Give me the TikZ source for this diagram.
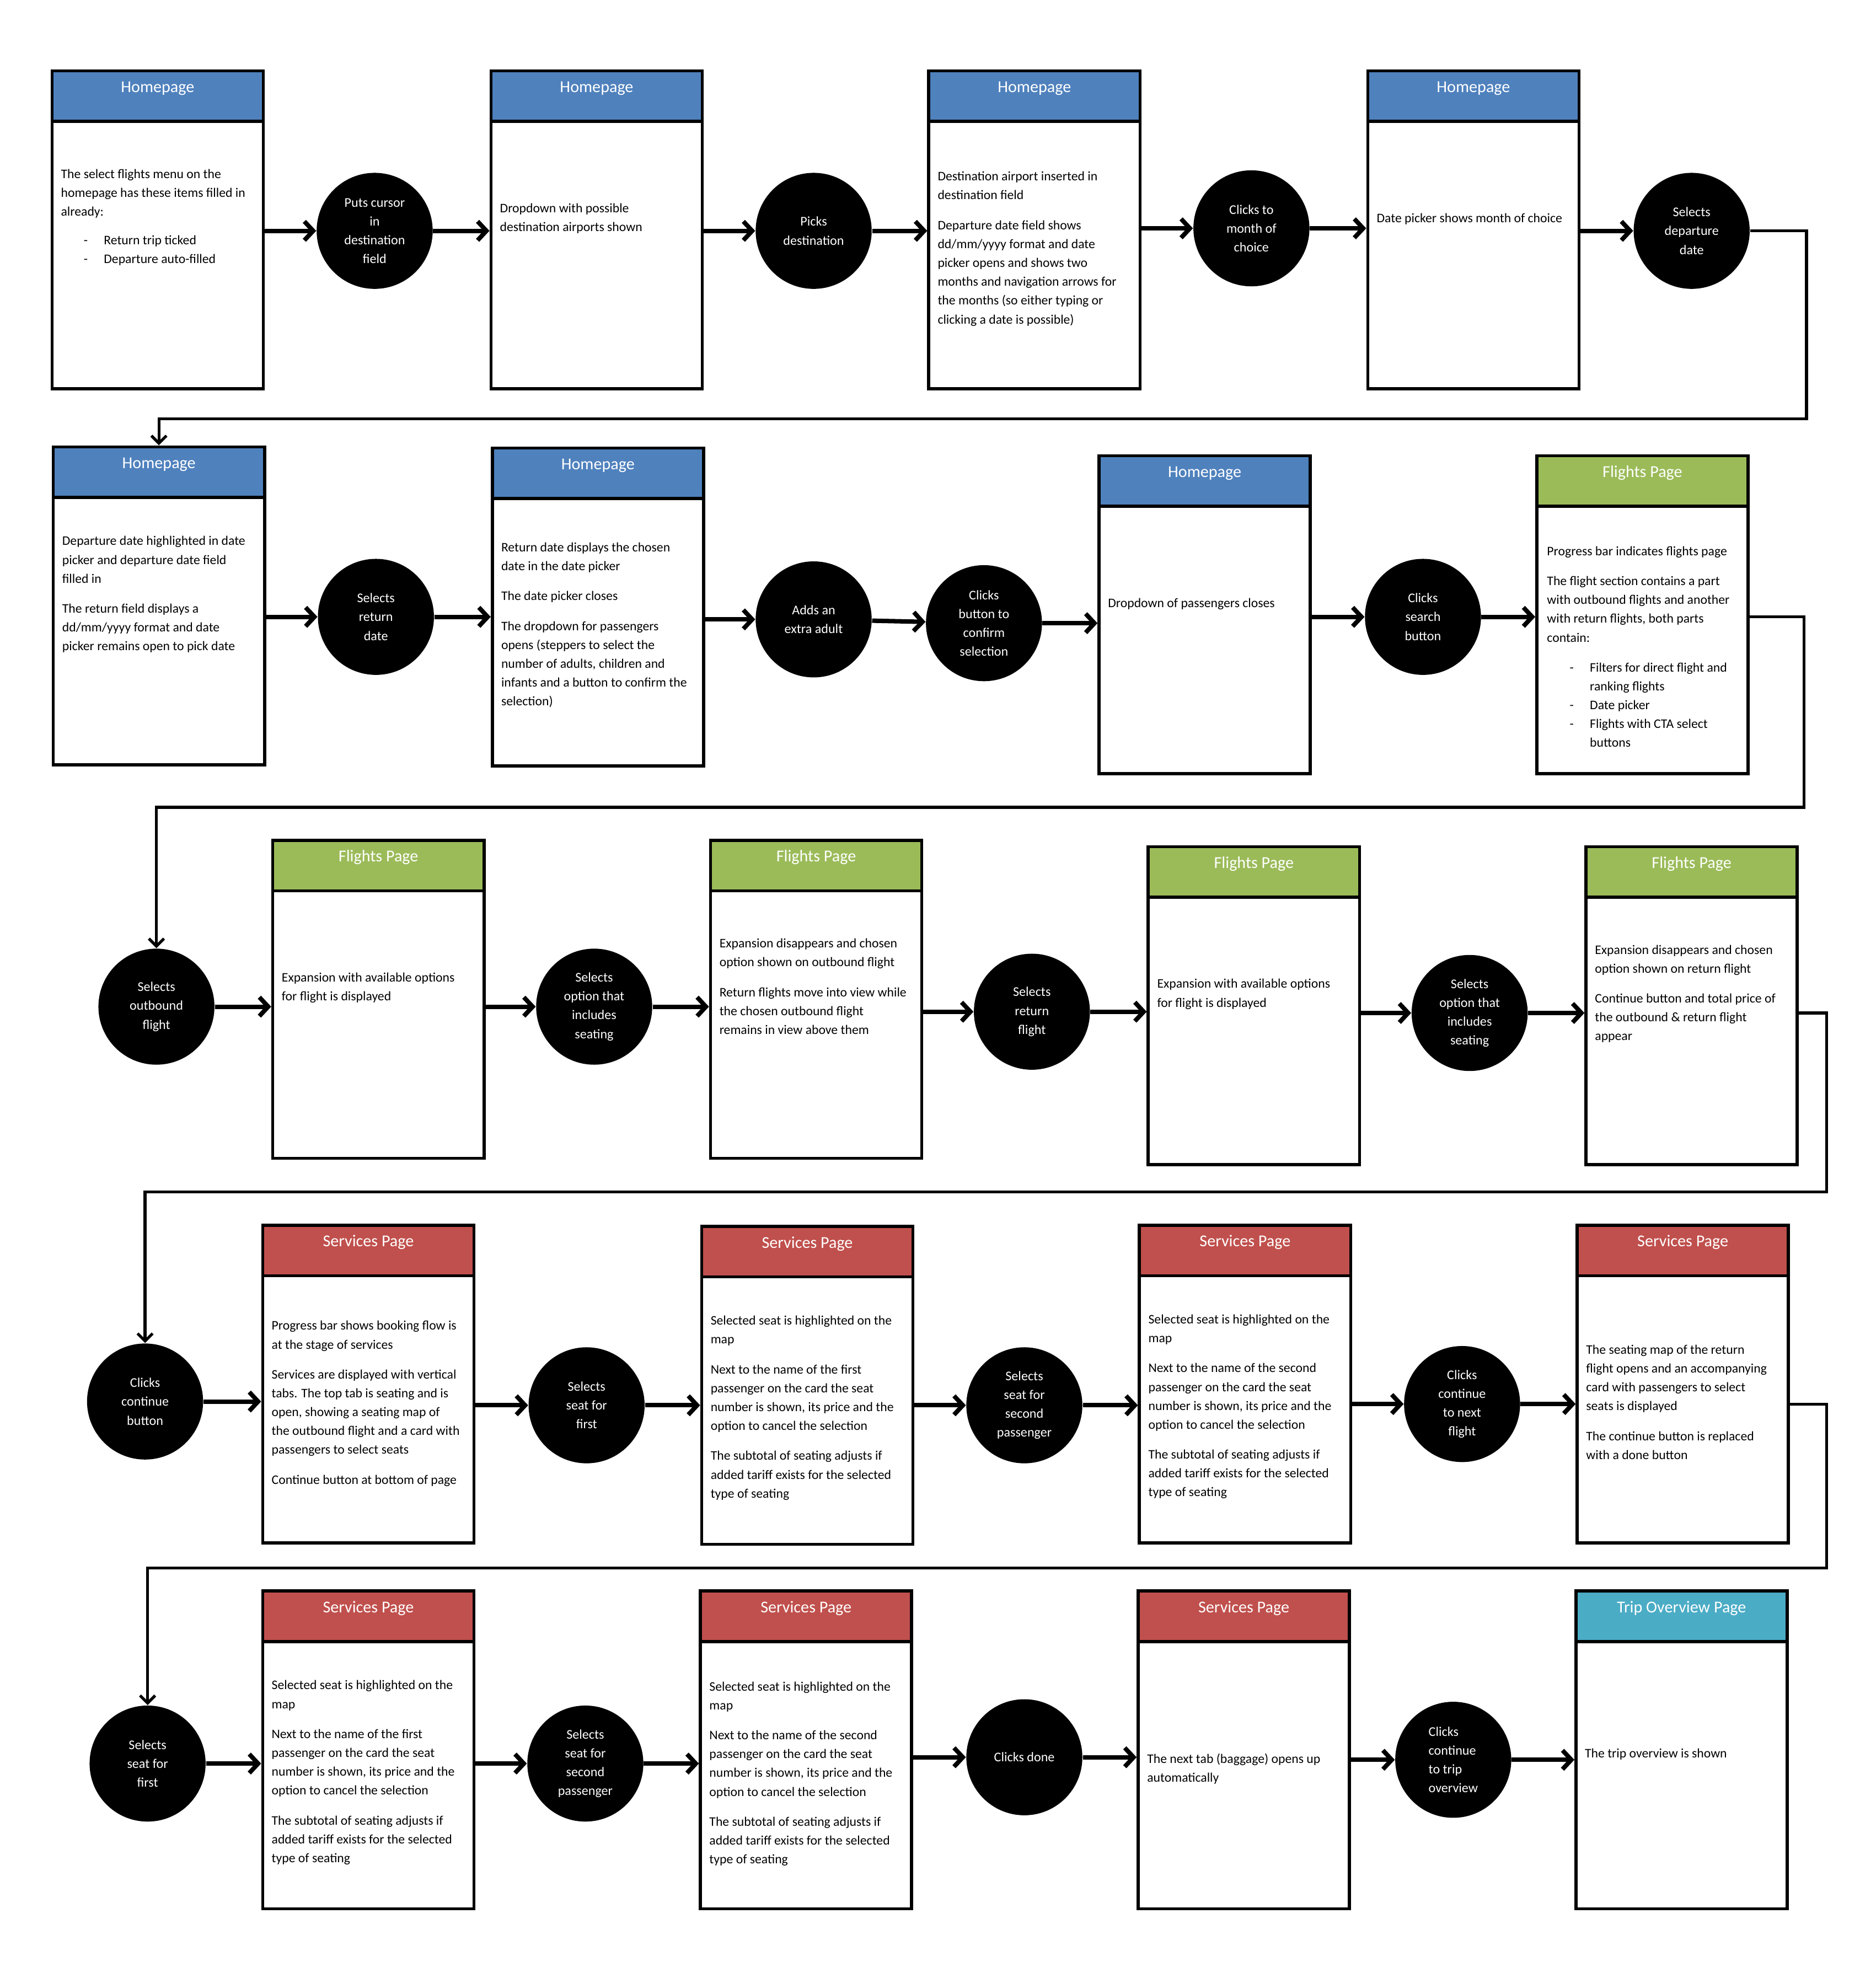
\documentclass[tikz,border=0pt]{standalone}
\usepackage{fontspec}
\setmainfont{Carlito}
\usetikzlibrary{arrows.meta}
\definecolor{homeblue}{HTML}{4F81BD}
\definecolor{flightgreen}{HTML}{9BBB59}
\definecolor{servicered}{HTML}{C0504D}
\definecolor{tripteal}{HTML}{4BACC6}
\tikzset{
    page/.style={draw=black, line width=1.4pt, fill=white, minimum width=3.35cm, minimum height=5.04cm, anchor=north west},
    head/.style={draw=black, line width=1.4pt, minimum width=3.35cm, minimum height=0.8cm, inner sep=0pt, text height=0.34cm, text depth=0.46cm, anchor=north west, text=white, font=\fontsize{7.5}{9}\selectfont},
    info/.style={anchor=north west, inner sep=0pt, yshift=-0.035cm, align=left, font=\fontsize{5.9}{8.5}\selectfont},
    act/.style={shape=circle, fill=black, text=white, minimum size=1.84cm, inner sep=0pt, align=center, font=\fontsize{6}{8.5}\selectfont},
    flow/.style={line width=2pt, -{Straight Barb[length=1.4mm, width=3mm]}},
    back/.style={line width=1.3pt, -{Straight Barb[length=1.2mm, width=2.4mm]}}}
\newcommand{\itm}[1]{\hspace*{0.36cm}\makebox[0.32cm][l]{-}#1}
\newcommand{\itmc}[1]{\hspace*{0.68cm}#1}

\begin{document}
\begin{tikzpicture}[x=0.02cm, y=-0.02cm]
    \useasboundingbox[fill=white] (0,0) rectangle (1487,1568);

    % row 1
    \node[page] (b1) at (40,55) {};
    \node[head, fill=homeblue] (h1) at (b1.north west) {Homepage};
    \node[info] (t1) at (48,132) {The select flights menu on the\\ homepage has these items filled in\\ already:\\[4.5pt] \itm{Return trip ticked}\\ \itm{Departure auto-filled}};
    \node[page] (b2) at (388,55) {};
    \node[head, fill=homeblue] (h2) at (b2.north west) {Homepage};
    \node[info] (t2) at (396,159) {Dropdown with possible\\ destination airports shown};
    \node[page] (b3) at (735,55) {};
    \node[head, fill=homeblue] (h3) at (b3.north west) {Homepage};
    \node[info] (t3) at (743,134) {Destination airport inserted in\\ destination field\\[5pt] Departure date field shows\\ dd/mm/yyyy format and date\\ picker opens and shows two\\ months and navigation arrows for\\ the months (so either typing or\\ clicking a date is possible)};
    \node[page] (b4) at (1083,55) {};
    \node[head, fill=homeblue] (h4) at (b4.north west) {Homepage};
    \node[info] (t4) at (1091,167) {Date picker shows month of choice};

    \node[act] (c1) at (297,183) {Puts cursor\\ in\\ destination\\ field};
    \node[act] (c2) at (645,183) {Picks\\ destination};
    \node[act] (c3) at (992,181) {Clicks to\\ month of\\ choice};
    \node[act] (c4) at (1341,183) {Selects\\ departure\\ date};

    \draw[flow] (c1 -| b1.east) -- (c1);
    \draw[flow] (c1) -- (c1 -| b2.west);
    \draw[flow] (c2 -| b2.east) -- (c2);
    \draw[flow] (c2) -- (c2 -| b3.west);
    \draw[flow] (c3 -| b3.east) -- (c3);
    \draw[flow] (c3) -- (c3 -| b4.west);
    \draw[flow] (c4 -| b4.east) -- (c4);

    % row 2
    \node[page] (b5) at (41,353) {};
    \node[head, fill=homeblue] (h5) at (b5.north west) {Homepage};
    \node[info] (t5) at (49,423) {Departure date highlighted in date\\ picker and departure date field\\ filled in\\[5pt] The return field displays a\\ dd/mm/yyyy format and date\\ picker remains open to pick date};
    \node[page] (b6) at (389,354) {};
    \node[head, fill=homeblue] (h6) at (b6.north west) {Homepage};
    \node[info] (t6) at (397,428) {Return date displays the chosen\\ date in the date picker\\[5pt] The date picker closes\\[5pt] The dropdown for passengers\\ opens (steppers to select the\\ number of adults, children and\\ infants and a button to confirm the\\ selection)};
    \node[page] (b7) at (870,360) {};
    \node[head, fill=homeblue] (h7) at (b7.north west) {Homepage};
    \node[info] (t7) at (878,472) {Dropdown of passengers closes};
    \node[page] (b8) at (1217,360) {};
    \node[head, fill=flightgreen] (h8) at (b8.north west) {Flights Page};
    \node[info] (t8) at (1226,431) {Progress bar indicates flights page\\[5pt] The flight section contains a part\\ with outbound flights and another\\ with return flights, both parts\\ contain:\\[5pt] \itm{Filters for direct flight and}\\ \itmc{ranking flights}\\ \itm{Date picker}\\ \itm{Flights with CTA select}\\ \itmc{buttons}};

    \node[act] (c5) at (298,489) {Selects\\ return\\ date};
    \node[act] (c6) at (645,491) {Adds an\\ extra adult};
    \node[act] (c7) at (780,494) {Clicks\\ button to\\ confirm\\ selection};
    \node[act] (c8) at (1128,489) {Clicks\\ search\\ button};

    \coordinate (r1) at (1432,332);
    \draw[back] (c4) -| (r1) -| (b5);

    \draw[flow] (c5 -| b5.east) -- (c5);
    \draw[flow] (c5) -- (c5 -| b6.west);
    \draw[flow] (c6 -| b6.east) -- (c6);
    \draw[flow] (c6) -- (c7);
    \draw[flow] (c7) -- (c7 -| b7.west);
    \draw[flow] (c8 -| b7.east) -- (c8);
    \draw[flow] (c8) -- (c8 -| b8.west);

    % row 3
    \node[page] (b9) at (215,665) {};
    \node[head, fill=flightgreen] (h9) at (b9.north west) {Flights Page};
    \node[info] (t9) at (223,769) {Expansion with available options\\ for flight is displayed};
    \node[page] (b10) at (562,665) {};
    \node[head, fill=flightgreen] (h10) at (b10.north west) {Flights Page};
    \node[info] (t10) at (570,742) {Expansion disappears and chosen\\ option shown on outbound flight\\[5pt] Return flights move into view while\\ the chosen outbound flight\\ remains in view above them};
    \node[page] (b11) at (909,670) {};
    \node[head, fill=flightgreen] (h11) at (b11.north west) {Flights Page};
    \node[info] (t11) at (917,774) {Expansion with available options\\ for flight is displayed};
    \node[page] (b12) at (1256,670) {};
    \node[head, fill=flightgreen] (h12) at (b12.north west) {Flights Page};
    \node[info] (t12) at (1264,747) {Expansion disappears and chosen\\ option shown on return flight\\[5pt] Continue button and total price of\\ the outbound \& return flight\\ appear};

    \node[act] (c9) at (124,798) {Selects\\ outbound\\ flight};
    \node[act] (c10) at (471,798) {Selects\\ option that\\ includes\\ seating};
    \node[act] (c11) at (818,802) {Selects\\ return\\ flight};
    \node[act] (c12) at (1165,803) {Selects\\ option that\\ includes\\ seating};

    \coordinate (r2) at (1430,640);
    \draw[back] (c8 -| b8.east) -| (r2) -| (c9);

    \draw[flow] (c9) -- (c9 -| b9.west);
    \draw[flow] (c10 -| b9.east) -- (c10);
    \draw[flow] (c10) -- (c10 -| b10.west);
    \draw[flow] (c11 -| b10.east) -- (c11);
    \draw[flow] (c11) -- (c11 -| b11.west);
    \draw[flow] (c12 -| b11.east) -- (c12);
    \draw[flow] (c12) -- (c12 -| b12.west);

    % row 4
    \node[page] (b13) at (207,970) {};
    \node[head, fill=servicered] (h13) at (b13.north west) {Services Page};
    \node[info] (t13) at (215,1045) {Progress bar shows booking flow is\\ at the stage of services\\[5pt] Services are displayed with vertical\\ tabs. The top tab is seating and is\\ open, showing a seating map of\\ the outbound flight and a card with\\ passengers to select seats\\[5pt] Continue button at bottom of page};
    \node[page] (b14) at (555,971) {};
    \node[head, fill=servicered] (h14) at (b14.north west) {Services Page};
    \node[info] (t14) at (563,1041) {Selected seat is highlighted on the\\ map\\[5pt] Next to the name of the first\\ passenger on the card the seat\\ number is shown, its price and the\\ option to cancel the selection\\[5pt] The subtotal of seating adjusts if\\ added tariff exists for the selected\\ type of seating};
    \node[page] (b15) at (902,970) {};
    \node[head, fill=servicered] (h15) at (b15.north west) {Services Page};
    \node[info] (t15) at (910,1040) {Selected seat is highlighted on the\\ map\\[5pt] Next to the name of the second\\ passenger on the card the seat\\ number is shown, its price and the\\ option to cancel the selection\\[5pt] The subtotal of seating adjusts if\\ added tariff exists for the selected\\ type of seating};
    \node[page] (b16) at (1249,970) {};
    \node[head, fill=servicered] (h16) at (b16.north west) {Services Page};
    \node[info] (t16) at (1257,1064) {The seating map of the return\\ flight opens and an accompanying\\ card with passengers to select\\ seats is displayed\\[5pt] The continue button is replaced\\ with a done button};

    \node[act] (c13) at (115,1111) {Clicks\\ continue\\ button};
    \node[act] (c14) at (465,1114) {Selects\\ seat for\\ first};
    \node[act] (c15) at (812,1114) {Selects\\ seat for\\ second\\ passenger};
    \node[act] (c16) at (1159,1113) {Clicks\\ continue\\ to next\\ flight};

    \coordinate (r3) at (1448,945);
    \draw[back] (c12 -| b12.east) -| (r3) -| (c13);

    \draw[flow] (c13) -- (c13 -| b13.west);
    \draw[flow] (c14 -| b13.east) -- (c14);
    \draw[flow] (c14) -- (c14 -| b14.west);
    \draw[flow] (c15 -| b14.east) -- (c15);
    \draw[flow] (c15) -- (c15 -| b15.west);
    \draw[flow] (c16 -| b15.east) -- (c16);
    \draw[flow] (c16) -- (c16 -| b16.west);

    % row 5
    \node[page] (b17) at (207,1260) {};
    \node[head, fill=servicered] (h17) at (b17.north west) {Services Page};
    \node[info] (t17) at (215,1330) {Selected seat is highlighted on the\\ map\\[5pt] Next to the name of the first\\ passenger on the card the seat\\ number is shown, its price and the\\ option to cancel the selection\\[5pt] The subtotal of seating adjusts if\\ added tariff exists for the selected\\ type of seating};
    \node[page] (b18) at (554,1260) {};
    \node[head, fill=servicered] (h18) at (b18.north west) {Services Page};
    \node[info] (t18) at (562,1331) {Selected seat is highlighted on the\\ map\\[5pt] Next to the name of the second\\ passenger on the card the seat\\ number is shown, its price and the\\ option to cancel the selection\\[5pt] The subtotal of seating adjusts if\\ added tariff exists for the selected\\ type of seating};
    \node[page] (b19) at (901,1260) {};
    \node[head, fill=servicered] (h19) at (b19.north west) {Services Page};
    \node[info] (t19) at (909,1388) {The next tab (baggage) opens up\\ automatically};
    \node[page] (b20) at (1248,1260) {};
    \node[head, fill=tripteal] (h20) at (b20.north west) {Trip Overview Page};
    \node[info] (t20) at (1256,1384) {The trip overview is shown};

    \node[act] (c17) at (117,1398) {Selects\\ seat for\\ first};
    \node[act] (c18) at (464,1398) {Selects\\ seat for\\ second\\ passenger};
    \node[act] (c19) at (812,1393) {Clicks done};
    \node[act, align=left] (c20) at (1152,1395) {Clicks\\ continue\\ to trip\\ overview};

    \coordinate (r4) at (1448,1243);
    \draw[back] (c16 -| b16.east) -| (r4) -| (c17);

    \draw[flow] (c17) -- (c17 -| b17.west);
    \draw[flow] (c18 -| b17.east) -- (c18);
    \draw[flow] (c18) -- (c18 -| b18.west);
    \draw[flow] (c19 -| b18.east) -- (c19);
    \draw[flow] (c19) -- (c19 -| b19.west);
    \draw[flow] (c20 -| b19.east) -- (c20);
    \draw[flow] (c20) -- (c20 -| b20.west);

\end{tikzpicture}
\end{document}
